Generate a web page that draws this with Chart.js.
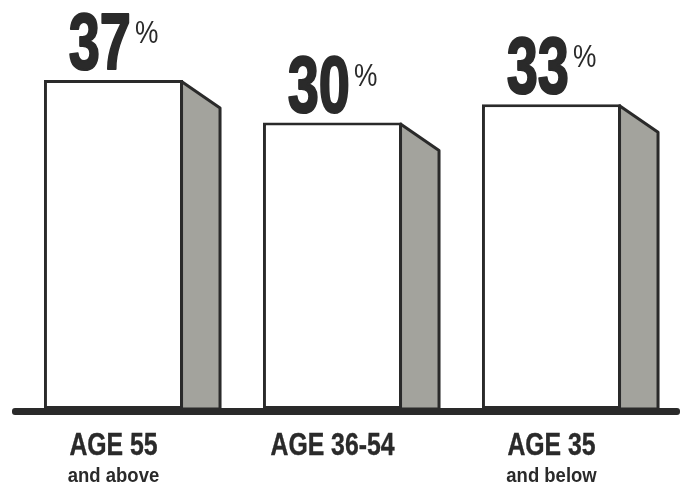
<!DOCTYPE html>
<html>
<head>
<meta charset="utf-8">
<script src="https://cdn.jsdelivr.net/npm/chart.js@4.4.1/dist/chart.umd.min.js"></script>
<style>
  html, body { margin: 0; padding: 0; background: #ffffff; }
  #wrap { width: 689px; height: 484px; position: relative; }
</style>
</head>
<body>
<div id="wrap"><canvas id="c"></canvas></div>
<script>
// ---- data ----
const categories = ['AGE 55', 'AGE 36-54', 'AGE 35'];
const subLabels = ['and above', '', 'and below'];
const values = [37, 30, 33];
const valueSuffix = '%';

// ---- scale range (axis not shown) ----
const Y_MIN = -17.2;
const Y_MAX = 46.9;

const INK = '#2a2a2a';
const SIDE = '#a3a39d';

const decoPlugin = {
  id: 'deco',
  afterDatasetsDraw(chart) {
    const ctx = chart.ctx;
    const meta = chart.getDatasetMeta(0);
    const area = chart.chartArea;
    const sideW = 37, sideDrop = 28;

    meta.data.forEach((bar, i) => {
      const p = bar.getProps(['x', 'y', 'base', 'width'], true);
      const r = p.x + p.width / 2;
      // side face
      ctx.save();
      ctx.beginPath();
      ctx.moveTo(r - 1.5, p.y + 1.5);
      ctx.lineTo(r + sideW, p.y + sideDrop);
      ctx.lineTo(r + sideW, p.base);
      ctx.lineTo(r - 1.5, p.base);
      ctx.closePath();
      ctx.fillStyle = SIDE;
      ctx.fill();
      ctx.lineWidth = 3;
      ctx.lineJoin = 'round';
      ctx.strokeStyle = INK;
      ctx.stroke();
      ctx.restore();

      // value label
      const txt = String(values[i]);
      ctx.save();
      ctx.fillStyle = INK;
      ctx.strokeStyle = INK;
      ctx.font = '700 80px "Liberation Sans", Arial, sans-serif';
      const sx = 0.7;
      const w = ctx.measureText(txt).width * sx;
      ctx.font = '400 31px "Liberation Sans", Arial, sans-serif';
      const psx = 0.85;
      const pw = ctx.measureText(valueSuffix).width * psx;
      const gap = 4;
      const total = w + gap + pw;
      const start = p.x - total / 2;
      const baseY = p.y - 11;
      ctx.textBaseline = 'alphabetic';
      ctx.textAlign = 'left';
      ctx.save();
      ctx.translate(start, baseY);
      ctx.scale(sx, 1);
      ctx.font = '700 80px "Liberation Sans", Arial, sans-serif';
      ctx.fillText(txt, 0, 0);
      ctx.lineWidth = 2.2;
      ctx.lineJoin = 'round';
      ctx.strokeText(txt, 0, 0);
      ctx.restore();
      ctx.save();
      ctx.translate(start + w + gap, baseY - 26);
      ctx.scale(psx, 1);
      ctx.font = '400 31px "Liberation Sans", Arial, sans-serif';
      ctx.fillText(valueSuffix, 0, 0);
      ctx.restore();
      ctx.restore();

      // category labels
      ctx.save();
      ctx.fillStyle = INK;
      ctx.strokeStyle = INK;
      ctx.textAlign = 'center';
      ctx.textBaseline = 'alphabetic';
      ctx.save();
      ctx.translate(p.x, 455);
      ctx.scale(0.8, 1);
      ctx.font = '700 31px "Liberation Sans", Arial, sans-serif';
      ctx.fillText(categories[i], 0, 0);
      ctx.lineWidth = 0.4;
      ctx.strokeText(categories[i], 0, 0);
      ctx.restore();
      if (subLabels[i]) {
        ctx.save();
        ctx.translate(p.x, 482);
        ctx.scale(0.88, 1);
        ctx.font = '700 21px "Liberation Sans", Arial, sans-serif';
        ctx.fillText(subLabels[i], 0, 0);
        ctx.restore();
      }
      ctx.restore();
    });

    // baseline
    ctx.save();
    ctx.fillStyle = INK;
    const by = area.bottom - 1;
    ctx.beginPath();
    if (ctx.roundRect) ctx.roundRect(12, by, 668, 7, 3);
    else ctx.rect(12, by, 668, 7);
    ctx.fill();
    ctx.restore();
  }
};

new Chart(document.getElementById('c'), {
  type: 'bar',
  data: {
    labels: categories,
    datasets: [{
      data: values,
      base: Y_MIN,
      backgroundColor: '#ffffff',
      borderColor: INK,
      borderWidth: 3,
      borderSkipped: false,
      barPercentage: 0.635,
      categoryPercentage: 1.0
    }]
  },
  options: {
    responsive: true,
    maintainAspectRatio: false,
    animation: false,
    layout: { padding: { left: 4, right: 28, top: 20, bottom: 75 } },
    plugins: { legend: { display: false }, tooltip: { enabled: false } },
    scales: {
      x: { display: false },
      y: { display: false, min: Y_MIN, max: Y_MAX }
    }
  },
  plugins: [decoPlugin]
});
</script>
</body>
</html>
